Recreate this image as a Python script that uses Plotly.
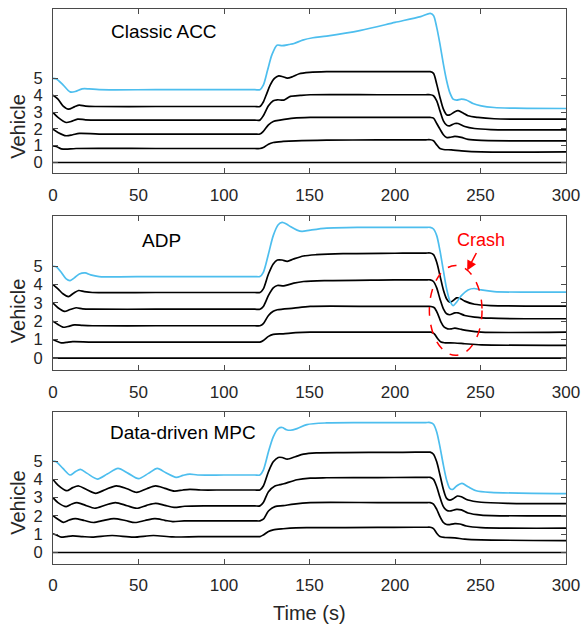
import plotly.graph_objects as go

# ---------------- Data ----------------
TIME_TICKS = [0, 50, 100, 150, 200, 250, 300]
VEHICLE_TICKS = [0, 1, 2, 3, 4, 5]
PANEL_TITLES = ["Classic ACC", "ADP", "Data-driven MPC"]

# --- Classic ACC ---
acc_t5 = [0, 2, 6, 10, 13, 17, 21, 27, 60, 100, 118, 121, 123, 125.5, 128, 131, 134, 138, 141, 146, 152, 160, 180, 200, 215, 220.6, 222.5, 224.4, 226.3, 228.3, 230.2, 232, 234, 236, 238.8, 241.7, 245.6, 250.4, 258, 270, 300]
acc_y5 = [5.0, 4.97, 4.6, 4.2, 4.22, 4.38, 4.38, 4.33, 4.33, 4.33, 4.33, 4.33, 4.6, 5.5, 6.4, 6.98, 6.95, 7.02, 7.08, 7.28, 7.42, 7.52, 7.86, 8.33, 8.68, 8.87, 8.75, 8.04, 7.04, 5.85, 4.86, 4.17, 3.77, 3.71, 3.77, 3.72, 3.51, 3.37, 3.27, 3.23, 3.21]
acc_t4 = [0, 2.9, 5.8, 9, 12.5, 15.4, 19, 25, 60, 100, 118, 121, 123, 125, 127, 129.5, 132, 134.5, 137, 140, 144, 150, 160, 190, 212, 218, 220.6, 222.5, 224.4, 226.3, 228.3, 230.2, 232, 235, 236.9, 239.8, 242.7, 248.5, 258, 300]
acc_y4 = [4.0, 3.77, 3.37, 3.17, 3.31, 3.41, 3.35, 3.33, 3.33, 3.33, 3.33, 3.33, 3.6, 4.1, 4.6, 5.0, 5.15, 5.1, 5.02, 5.1, 5.28, 5.36, 5.4, 5.4, 5.4, 5.4, 5.4, 5.3, 4.66, 3.87, 3.17, 2.84, 2.83, 3.02, 3.08, 2.95, 2.78, 2.68, 2.6, 2.58]
acc_t3 = [0, 2.9, 7.7, 10.6, 14.4, 19, 27, 60, 100, 118, 121, 123, 126, 128.8, 131.2, 135, 138.8, 144.6, 150.4, 190, 212, 218, 220.6, 222.5, 224.4, 226.3, 228.3, 230.2, 232, 235, 236.9, 240.8, 246.5, 256, 300]
acc_y3 = [2.98, 2.68, 2.38, 2.44, 2.58, 2.54, 2.52, 2.52, 2.52, 2.52, 2.52, 2.78, 3.37, 3.67, 3.73, 3.71, 3.93, 3.99, 4.03, 4.03, 4.03, 4.03, 4.03, 3.97, 3.67, 3.07, 2.48, 2.22, 2.18, 2.32, 2.32, 2.14, 2.02, 1.96, 1.94]
acc_t2 = [0, 2.9, 7.7, 11.5, 15.4, 27, 60, 100, 118, 121, 123, 126, 128.8, 132.7, 140.8, 150.4, 190, 212, 218, 220.6, 222.5, 224.4, 226.3, 228.3, 230.2, 232, 235, 238.8, 242.7, 250.4, 300]
acc_y2 = [1.98, 1.79, 1.59, 1.65, 1.73, 1.69, 1.69, 1.69, 1.69, 1.69, 1.85, 2.24, 2.44, 2.52, 2.64, 2.68, 2.68, 2.68, 2.68, 2.68, 2.64, 2.32, 1.98, 1.65, 1.49, 1.49, 1.55, 1.49, 1.37, 1.31, 1.29]
acc_t1 = [0, 1.9, 4.8, 7.7, 13.5, 60, 100, 118, 121, 123, 126, 128.8, 134.6, 142, 160, 190, 212, 218, 220.6, 222.5, 224.4, 226.3, 228.3, 233, 238.8, 250.4, 300]
acc_y1 = [0.99, 0.95, 0.81, 0.79, 0.83, 0.83, 0.83, 0.83, 0.83, 0.89, 1.09, 1.19, 1.25, 1.29, 1.33, 1.34, 1.35, 1.35, 1.35, 1.29, 1.05, 0.83, 0.77, 0.75, 0.69, 0.63, 0.63]

# --- ADP ---
adp_t5 = [0, 1.9, 4.8, 7.7, 10, 12.5, 15.4, 18.8, 22, 27, 60, 100, 118, 121, 123, 126, 128.8, 131.7, 134, 136.5, 138.8, 142.7, 145.6, 150.4, 160, 180, 205, 215, 218, 220.6, 222.5, 224.4, 226.3, 228.3, 230.2, 232, 234, 236, 238.8, 242.7, 246.2, 250.4, 258, 300]
adp_y5 = [5.0, 4.98, 4.67, 4.31, 4.22, 4.37, 4.58, 4.64, 4.53, 4.44, 4.44, 4.44, 4.44, 4.44, 4.67, 5.67, 6.67, 7.26, 7.39, 7.3, 7.16, 6.97, 6.9, 6.97, 7.08, 7.12, 7.12, 7.12, 7.12, 7.12, 7.03, 6.67, 5.85, 4.76, 3.77, 3.13, 2.86, 3.04, 3.4, 3.71, 3.79, 3.71, 3.62, 3.59]
adp_t4 = [0, 2.9, 5.8, 9, 12, 15, 18.3, 23, 60, 100, 118, 121, 123, 126, 128.8, 131.2, 134, 137, 140.8, 146.5, 154, 169.6, 200, 212, 218, 220.6, 222.5, 224.4, 226.3, 228.3, 230.2, 232, 234, 236, 237.9, 240.8, 246.5, 256, 300]
adp_y4 = [4.0, 3.77, 3.5, 3.35, 3.53, 3.68, 3.62, 3.57, 3.57, 3.57, 3.57, 3.57, 3.77, 4.58, 5.13, 5.34, 5.34, 5.27, 5.4, 5.56, 5.63, 5.69, 5.71, 5.72, 5.72, 5.72, 5.63, 5.22, 4.49, 3.71, 3.22, 3.04, 3.13, 3.28, 3.26, 3.1, 2.93, 2.86, 2.83]
adp_t3 = [0, 2.9, 6.7, 9.6, 13.5, 17.3, 23, 60, 100, 118, 121, 123, 126, 128.8, 131.2, 135, 140.8, 146.5, 160, 190, 212, 218, 220.6, 222.5, 224.4, 226.3, 228.3, 230.2, 232, 235, 236.9, 240.8, 246.5, 256, 300]
adp_y3 = [2.99, 2.74, 2.54, 2.63, 2.74, 2.68, 2.66, 2.66, 2.66, 2.66, 2.66, 2.81, 3.41, 3.82, 3.95, 3.93, 4.08, 4.17, 4.22, 4.25, 4.26, 4.26, 4.26, 4.17, 3.82, 3.22, 2.68, 2.41, 2.36, 2.46, 2.46, 2.32, 2.23, 2.17, 2.14]
adp_t2 = [0, 2.9, 5.8, 8.7, 12.5, 17.3, 23, 60, 100, 118, 121, 123, 126, 128.8, 131.2, 140.8, 150.4, 190, 212, 218, 221, 223, 225, 226.9, 228.8, 230.8, 233, 235, 238.8, 242.7, 250.4, 300]
adp_y2 = [2.01, 1.83, 1.68, 1.72, 1.81, 1.78, 1.76, 1.76, 1.76, 1.76, 1.76, 1.87, 2.32, 2.55, 2.63, 2.72, 2.81, 2.81, 2.81, 2.81, 2.81, 2.74, 2.41, 1.96, 1.68, 1.59, 1.59, 1.63, 1.56, 1.49, 1.41, 1.41]
adp_t1 = [0, 1.9, 4.8, 7.7, 11.5, 23, 60, 100, 118, 121, 123, 126, 128.8, 134.6, 142, 150.4, 190, 212, 218, 221, 223, 225, 226.9, 229.2, 235, 240.8, 250.4, 300]
adp_y1 = [1.0, 0.93, 0.83, 0.85, 0.89, 0.87, 0.87, 0.87, 0.87, 0.87, 0.96, 1.18, 1.29, 1.32, 1.38, 1.41, 1.41, 1.41, 1.41, 1.41, 1.32, 1.05, 0.87, 0.83, 0.82, 0.78, 0.72, 0.69]

# --- Data-driven MPC ---
mpc_t5 = [0, 1.9, 5.8, 10, 13, 16, 20, 26, 31.7, 38, 44, 50, 55.8, 61, 66, 72, 76, 80, 84.6, 100, 118, 121, 123, 126, 128.8, 131.7, 134, 136.5, 138.8, 142.7, 148.5, 160, 180, 205, 215, 218, 220.6, 222.5, 224.4, 226.3, 228.3, 230.2, 232, 233.7, 236, 239.2, 242.7, 247.5, 256, 300]
mpc_y5 = [5.0, 4.96, 4.6, 4.24, 4.42, 4.55, 4.33, 4.02, 4.29, 4.6, 4.33, 4.04, 4.33, 4.6, 4.36, 4.11, 4.22, 4.29, 4.24, 4.24, 4.24, 4.24, 4.51, 5.51, 6.33, 6.78, 6.84, 6.72, 6.69, 6.78, 7.0, 7.09, 7.11, 7.11, 7.11, 7.11, 7.11, 7.02, 6.6, 5.78, 4.78, 3.96, 3.51, 3.45, 3.64, 3.78, 3.6, 3.38, 3.29, 3.22]
mpc_t4 = [0, 2.9, 8, 11.5, 15, 19.6, 25, 30.8, 37, 43.3, 49, 54.8, 60, 65.4, 71, 76, 80, 86.5, 100, 118, 121, 123, 126, 128.8, 131.7, 134, 137, 141.7, 146.5, 154, 170, 200, 212, 218, 220.6, 222.5, 224.4, 226.3, 228.3, 230.2, 232, 234, 236.5, 238.8, 242.7, 250.4, 265.8, 300]
mpc_y4 = [4.0, 3.69, 3.38, 3.55, 3.64, 3.45, 3.24, 3.45, 3.65, 3.49, 3.29, 3.49, 3.64, 3.51, 3.36, 3.42, 3.45, 3.42, 3.42, 3.42, 3.42, 3.64, 4.42, 4.96, 5.2, 5.2, 5.11, 5.24, 5.38, 5.45, 5.47, 5.48, 5.49, 5.49, 5.49, 5.38, 4.96, 4.24, 3.45, 2.96, 2.87, 2.94, 3.09, 3.05, 2.87, 2.75, 2.69, 2.67]
mpc_t3 = [0, 2.9, 7.7, 11, 14, 19, 24.4, 30.8, 36.5, 43.3, 49, 54.8, 60, 65.4, 70.8, 77, 90, 105, 118, 121, 123, 126, 129.8, 132.7, 135, 142.7, 150.4, 160, 190, 212, 218, 220.6, 222.5, 224.4, 226.3, 228.3, 230.2, 232, 236, 238.8, 242.7, 250.4, 300]
mpc_y3 = [3.0, 2.73, 2.51, 2.65, 2.73, 2.58, 2.42, 2.6, 2.73, 2.56, 2.42, 2.58, 2.69, 2.58, 2.47, 2.53, 2.55, 2.55, 2.55, 2.55, 2.73, 3.33, 3.64, 3.71, 3.76, 3.98, 4.07, 4.09, 4.1, 4.11, 4.11, 4.11, 4.0, 3.6, 3.02, 2.51, 2.31, 2.27, 2.36, 2.33, 2.16, 2.05, 2.0]
mpc_t2 = [0, 2.9, 6, 9.6, 13, 18.3, 23.7, 29.8, 35.6, 42.3, 48, 53.8, 59.6, 65.4, 70, 76.7, 90, 105, 118, 121, 123, 126, 129.8, 134.6, 140.8, 150.4, 190, 212, 218, 220.6, 222.5, 224.4, 226.3, 228.3, 230.2, 232, 235, 237.9, 241.7, 250.4, 300]
mpc_y2 = [2.02, 1.82, 1.65, 1.78, 1.85, 1.75, 1.64, 1.76, 1.85, 1.75, 1.64, 1.75, 1.85, 1.76, 1.69, 1.73, 1.73, 1.73, 1.73, 1.73, 1.82, 2.27, 2.51, 2.56, 2.65, 2.73, 2.73, 2.73, 2.73, 2.73, 2.65, 2.36, 1.96, 1.64, 1.53, 1.53, 1.58, 1.56, 1.45, 1.36, 1.33]
mpc_t1 = [0, 1.9, 4.8, 7.7, 11.5, 17.3, 23, 34.6, 47, 58.7, 70, 85, 105, 118, 121, 123, 126, 128.8, 134.6, 142, 150.4, 190, 212, 218, 220.6, 222.5, 224.4, 226.3, 229.2, 235, 240.8, 250.4, 300]
mpc_y1 = [1.02, 0.96, 0.84, 0.87, 0.91, 0.87, 0.84, 0.93, 0.84, 0.93, 0.85, 0.87, 0.87, 0.87, 0.87, 0.96, 1.15, 1.24, 1.3, 1.35, 1.36, 1.37, 1.38, 1.38, 1.38, 1.31, 1.05, 0.87, 0.82, 0.8, 0.73, 0.69, 0.65]

LEADER_T = [0, 300]
LEADER_Y = [0, 0]

PANELS = [
    [(acc_t1, acc_y1), (acc_t2, acc_y2), (acc_t3, acc_y3), (acc_t4, acc_y4), (acc_t5, acc_y5)],
    [(adp_t1, adp_y1), (adp_t2, adp_y2), (adp_t3, adp_y3), (adp_t4, adp_y4), (adp_t5, adp_y5)],
    [(mpc_t1, mpc_y1), (mpc_t2, mpc_y2), (mpc_t3, mpc_y3), (mpc_t4, mpc_y4), (mpc_t5, mpc_y5)],
]
Y_RANGES = [[-0.65, 9.13], [-0.67, 7.72], [-0.63, 7.69]]
TITLE_POS = [(64.8, 7.78), (63.2, 6.43), (76.2, 6.57)]
VEHICLE_LABEL_Y = [2.18, 2.6, 2.77]

# ---------------- Layout geometry ----------------
W, H = 588, 624
ML, MR, MT, MB = 53, 16, 8, 60
PH = H - MT - MB
PW = W - ML - MR
PANEL_PIX = [(8.0, 172.7), (215.7, 370.0), (411.7, 564.0)]

BLUE = "rgb(77,190,238)"
TXT = "#262626"
AX = "#4a4a4a"
FONT = "Liberation Sans, Arial, Helvetica, sans-serif"


def clamp(v):
    return max(0.0, min(1.0, v))


fig = go.Figure()

for p, series in enumerate(PANELS):
    xa = "x" if p == 0 else f"x{p+1}"
    ya = "y" if p == 0 else f"y{p+1}"
    fig.add_trace(go.Scatter(x=LEADER_T, y=LEADER_Y, mode="lines",
                             line=dict(color="black", width=1.7),
                             xaxis=xa, yaxis=ya, showlegend=False, hoverinfo="skip"))
    for i, (tt, yy) in enumerate(series):
        col = BLUE if i == 4 else "black"
        fig.add_trace(go.Scatter(x=tt, y=yy, mode="lines",
                                 line=dict(color=col, width=1.7, shape="spline", smoothing=0.8),
                                 xaxis=xa, yaxis=ya, showlegend=False, hoverinfo="skip"))

layout_axes = {}
annotations = []
for p in range(3):
    top, bot = PANEL_PIX[p]
    d0 = clamp((H - MB - bot) / PH)
    d1 = clamp((H - MB - top) / PH)
    xk = "xaxis" if p == 0 else f"xaxis{p+1}"
    yk = "yaxis" if p == 0 else f"yaxis{p+1}"
    yname = "y" if p == 0 else f"y{p+1}"
    xname = "x" if p == 0 else f"x{p+1}"
    layout_axes[xk] = dict(range=[0, 300], tickvals=TIME_TICKS, ticks="inside", ticklen=5,
                           tickcolor=AX, showline=True, linecolor=AX, linewidth=1, mirror="ticks",
                           showgrid=False, zeroline=False, anchor=yname,
                           tickfont=dict(size=17, color=TXT, family=FONT), ticklabelstandoff=6)
    layout_axes[yk] = dict(range=Y_RANGES[p], tickvals=VEHICLE_TICKS, ticks="inside", ticklen=5,
                           tickcolor=AX, showline=True, linecolor=AX, linewidth=1, mirror="ticks",
                           showgrid=False, zeroline=False, domain=[d0, d1], anchor=xname,
                           tickfont=dict(size=16.5, color=TXT, family=FONT), ticklabelstandoff=6)
    tx, ty = TITLE_POS[p]
    annotations.append(dict(x=tx, y=ty, xref=xname, yref=yname, text=PANEL_TITLES[p],
                            showarrow=False, font=dict(size=19, color="black", family=FONT)))
    annotations.append(dict(x=(17.5 - ML) / PW, y=VEHICLE_LABEL_Y[p], xref="paper", yref=yname,
                            text="Vehicle", textangle=-90, showarrow=False,
                            xanchor="center", yanchor="middle",
                            font=dict(size=20, color=TXT, family=FONT)))

# Crash annotation (panel 2)
annotations.append(dict(x=250.4, y=6.45, xref="x2", yref="y2", text="Crash", showarrow=False,
                        font=dict(size=18, color="red", family=FONT)))
annotations.append(dict(x=242.2, y=4.77, xref="x2", yref="y2", text="", showarrow=True,
                        ax=10, ay=-19, arrowcolor="red", arrowwidth=1.5, arrowhead=2, arrowsize=1.3))
# Time label
annotations.append(dict(x=0.5, y=-49.0 / PH, xref="paper", yref="paper", text="Time (s)",
                        showarrow=False, xanchor="center", yanchor="middle",
                        font=dict(size=20, color=TXT, family=FONT)))

shapes = [dict(type="circle", xref="x2", yref="y2", x0=220.1, x1=250.9, y0=0.15, y1=5.04,
               line=dict(color="red", width=1.5, dash="dash"))]

fig.update_layout(width=W, height=H, margin=dict(l=ML, r=MR, t=MT, b=MB),
                  plot_bgcolor="white", paper_bgcolor="white",
                  annotations=annotations, shapes=shapes, **layout_axes)

# Remove the browser's default page margin so the figure fills the window exactly.
POST = ("document.documentElement.style.margin='0';document.body.style.margin='0';"
        "document.body.style.padding='0';document.documentElement.style.overflow='hidden';"
        "document.body.style.overflow='hidden';")
fig.write_html("out.html", post_script=POST, config={"displayModeBar": False})
